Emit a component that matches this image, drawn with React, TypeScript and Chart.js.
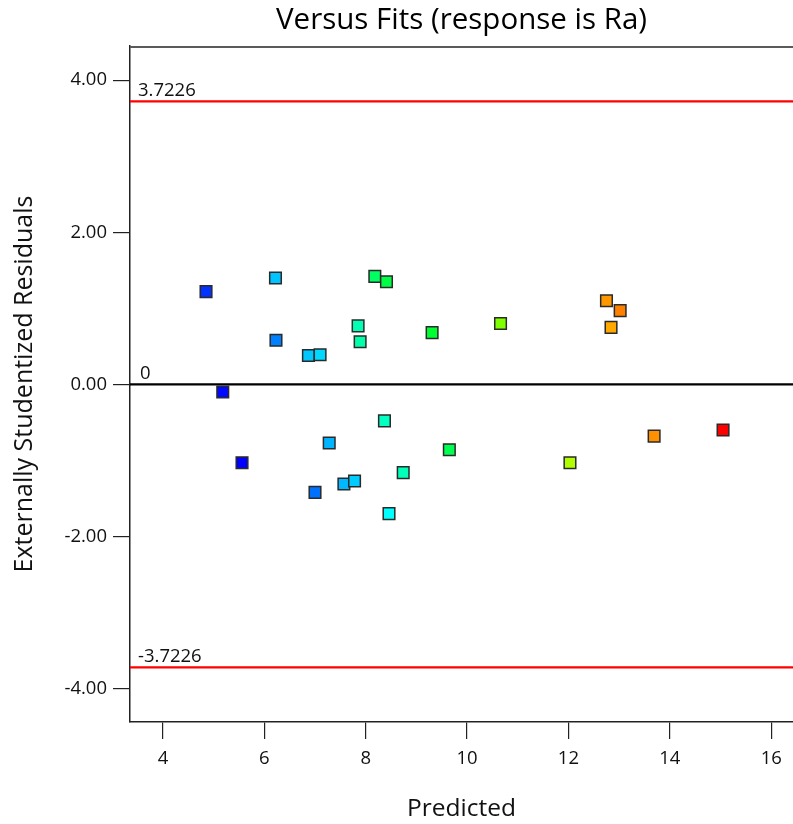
import React, { useEffect, useRef } from "react";
import { Chart, registerables } from "chart.js";

Chart.register(...registerables);

const titleText = "Versus Fits (response is Ra)";
const xTitle = "Predicted";
const yTitle = "Externally Studentized Residuals";

const predicted = [4.85, 5.18, 5.56, 6.22, 6.23, 6.87, 7.10, 7.00, 7.28, 7.57, 7.78, 7.85, 7.89, 8.18, 8.41, 8.37, 8.46, 8.74, 9.31, 9.65, 10.66, 12.03, 12.75, 13.02, 12.84, 13.69, 15.05];
const residuals = [1.22, -0.10, -1.03, 1.40, 0.58, 0.38, 0.39, -1.42, -0.77, -1.31, -1.27, 0.77, 0.56, 1.42, 1.35, -0.48, -1.70, -1.16, 0.68, -0.86, 0.80, -1.03, 1.10, 0.97, 0.75, -0.68, -0.60];
const pointColors = [
  "#0033ff", "#0008ff", "#0000ff", "#00c4ff", "#0080ff", "#00c8ff", "#00d8ff", "#0070ff", "#00b4ff",
  "#00b8ff", "#00ccff", "#00ffb4", "#00ffa8", "#00ff60", "#00ff44", "#00ffc0", "#00ffff", "#00ffb8",
  "#00ff30", "#00ff50", "#80ff00", "#b0ff00", "#ff9800", "#ff8000", "#ffa800", "#ff9000", "#ff0000",
];

const upperLimit = 3.7226;
const lowerLimit = -3.7226;
const upperLabel = "3.7226";
const lowerLabel = "-3.7226";
const zeroLabel = "0";

const xMin = 3.35;
const xMax = 16.43;
const yMin = -4.44;
const yMax = 4.45;
const xStep = 2;
const yStep = 2;

const FONT = "'Open Sans', 'Noto Sans', sans-serif";

export default function App() {
  const canvasRef = useRef<HTMLCanvasElement | null>(null);

  useEffect(() => {
    document.body.style.margin = "0";
    const canvas = canvasRef.current;
    if (!canvas) return;

    const decorPlugin = {
      id: "decor",
      afterDraw(chart: any) {
        const { ctx, chartArea } = chart;
        const xs = chart.scales.x;
        const ys = chart.scales.y;
        ctx.save();
        // top border
        ctx.strokeStyle = "#5a5a5a";
        ctx.lineWidth = 2;
        ctx.beginPath();
        ctx.moveTo(chartArea.left, chartArea.top + 1);
        ctx.lineTo(chartArea.right, chartArea.top + 1);
        ctx.stroke();
        // title
        ctx.fillStyle = "#000";
        ctx.font = `29.5px ${FONT}`;
        ctx.textAlign = "center";
        ctx.textBaseline = "middle";
        ctx.fillText(titleText, (chartArea.left + chartArea.right) / 2, 21);
        // line labels
        ctx.font = `18.5px ${FONT}`;
        ctx.fillStyle = "#111";
        ctx.textAlign = "left";
        ctx.textBaseline = "bottom";
        const lx = xs.left + 8;
        ctx.fillText(upperLabel, lx, ys.getPixelForValue(upperLimit) - 1);
        ctx.fillText(zeroLabel, lx + 2, ys.getPixelForValue(0) - 1);
        ctx.fillText(lowerLabel, lx, ys.getPixelForValue(lowerLimit) - 1);
        ctx.restore();
      },
    };

    const chart = new Chart(canvas, {
      type: "scatter",
      data: {
        datasets: [
          {
            data: predicted.map((x, i) => ({ x, y: residuals[i] })),
            pointStyle: "rect",
            pointRadius: 8.2,
            pointHoverRadius: 8.2,
            pointBackgroundColor: pointColors,
            pointBorderColor: "#2a2a2a",
            pointBorderWidth: 1.5,
          } as any,
          {
            data: [{ x: xMin, y: 0 }, { x: xMax, y: 0 }],
            showLine: true,
            borderColor: "#000000",
            borderWidth: 2.2,
            pointRadius: 0,
          },
          {
            data: [{ x: xMin, y: upperLimit }, { x: xMax, y: upperLimit }],
            showLine: true,
            borderColor: "#ff0000",
            borderWidth: 2.2,
            pointRadius: 0,
          },
          {
            data: [{ x: xMin, y: lowerLimit }, { x: xMax, y: lowerLimit }],
            showLine: true,
            borderColor: "#ff0000",
            borderWidth: 2.2,
            pointRadius: 0,
          },
        ],
      },
      options: {
        animation: false,
        responsive: false,
        maintainAspectRatio: false,
        layout: { autoPadding: false, padding: { top: 46, left: 0, right: 0, bottom: 0 } },
        plugins: {
          legend: { display: false },
          tooltip: { enabled: false },
          title: { display: false },
        },
        scales: {
          x: {
            type: "linear",
            min: xMin,
            max: xMax,
            afterFit: (s: any) => {
              s.height = 102;
              s.paddingRight = 0;
              s.paddingLeft = 0;
            },
            border: { display: true, color: "#222", width: 1.5 },
            grid: { drawOnChartArea: false, drawTicks: true, tickLength: 17, color: "#222", lineWidth: 1.2 },
            ticks: {
              stepSize: xStep,
              includeBounds: false,
              padding: 9,
              color: "#111",
              font: { family: FONT, size: 18.5 },
              callback: (v: any) => String(v),
            },
            title: {
              display: true,
              text: xTitle,
              color: "#111",
              font: { family: FONT, size: 24.5 },
              padding: { top: 0, bottom: 0 },
            },
          },
          y: {
            type: "linear",
            min: yMin,
            max: yMax,
            afterFit: (s: any) => {
              s.width = 130;
              s.paddingTop = 0;
              s.paddingBottom = 0;
            },
            border: { display: true, color: "#222", width: 1.5 },
            grid: { drawOnChartArea: false, drawTicks: true, tickLength: 17, color: "#222", lineWidth: 1.2 },
            ticks: {
              stepSize: yStep,
              includeBounds: false,
              padding: 6,
              color: "#111",
              font: { family: FONT, size: 18.5 },
              callback: (v: any) => Number(v).toFixed(2),
            },
            title: {
              display: true,
              text: yTitle,
              color: "#111",
              font: { family: FONT, size: 25 },
              padding: { top: 10, bottom: 0 },
            },
          },
        },
      } as any,
      plugins: [decorPlugin],
    });

    return () => chart.destroy();
  }, []);

  return (
    <div style={{ width: 793, height: 824, position: "relative" }}>
      <canvas ref={canvasRef} width={793} height={824} style={{ display: "block" }} />
    </div>
  );
}
